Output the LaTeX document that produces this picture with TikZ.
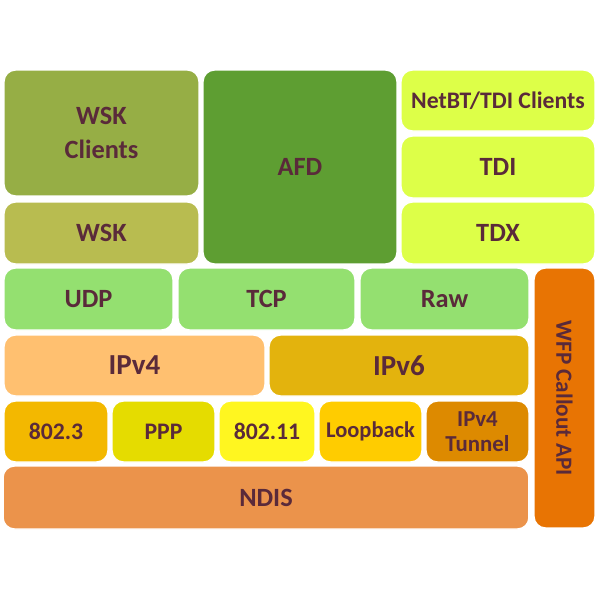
\documentclass[tikz,border=0pt]{standalone}
\usepackage{fontspec}
\setmainfont{Carlito}
\usetikzlibrary{positioning}

\definecolor{labeltext}{RGB}{90,42,58}
\definecolor{wskcli}{RGB}{150,174,69}
\definecolor{wsk}{RGB}{184,188,80}
\definecolor{afd}{RGB}{94,158,50}
\definecolor{tdi}{RGB}{221,255,72}
\definecolor{transport}{RGB}{148,224,112}
\definecolor{ipfour}{RGB}{255,192,112}
\definecolor{ipsix}{RGB}{227,179,13}
\definecolor{ether}{RGB}{243,184,0}
\definecolor{ppp}{RGB}{229,220,0}
\definecolor{wifi}{RGB}{255,246,32}
\definecolor{loop}{RGB}{255,204,0}
\definecolor{tunnel}{RGB}{221,138,0}
\definecolor{ndis}{RGB}{235,147,75}
\definecolor{wfp}{RGB}{232,116,3}

\begin{document}
\begin{tikzpicture}[x=0.02cm,y=-0.02cm,
    every node/.style={font=\bfseries\fontsize{15}{19}\selectfont, text=labeltext},
    layer/.style={draw=white, line width=0.8pt, rectangle, rounded corners=6.5pt, inner sep=0pt, align=center},
    small/.style={font=\bfseries\fontsize{13.5}{15.5}\selectfont}]
    \useasboundingbox (0,0) rectangle (600,600);
    % sockets / tdi
    \node[layer, fill=wskcli, minimum width=3.9cm, minimum height=2.52cm] (wskc) at (101.5,133) {WSK\\Clients};
    \node[layer, fill=wsk, minimum width=3.9cm, minimum height=1.24cm] (wsk) at (101.5,233) {WSK};
    \node[layer, fill=afd, minimum width=3.88cm, minimum height=3.88cm] (afd) at (300,167) {AFD};
    \node[layer, fill=tdi, minimum width=3.88cm, minimum height=1.22cm, small] (netbt) at (498,100.5) {NetBT/TDI Clients};
    \node[layer, fill=tdi, minimum width=3.88cm, minimum height=1.24cm] (tdi) at (498,167) {TDI};
    \node[layer, fill=tdi, minimum width=3.88cm, minimum height=1.24cm] (tdx) at (498,233) {TDX};
    % transport
    \node[layer, fill=transport, minimum width=3.38cm, minimum height=1.24cm] (udp) at (88.5,299) {UDP};
    \node[layer, fill=transport, minimum width=3.54cm, minimum height=1.24cm] (tcp) at (266.5,299) {TCP};
    \node[layer, fill=transport, minimum width=3.38cm, minimum height=1.24cm] (raw) at (444.5,299) {Raw};
    % network
    \node[layer, fill=ipfour, minimum width=5.22cm, minimum height=1.22cm, font=\bfseries\fontsize{16.5}{20}\selectfont] (ipv4) at (134.5,365.5) {IPv4};
    \node[layer, fill=ipsix, minimum width=5.2cm, minimum height=1.22cm, font=\bfseries\fontsize{16.5}{20}\selectfont] (ipv6) at (399,365.5) {IPv6};
    % framing
    \node[layer, fill=ether, minimum width=2.08cm, minimum height=1.22cm, small] (eth) at (56,431.5) {802.3};
    \node[layer, fill=ppp, minimum width=2.06cm, minimum height=1.22cm, small] (ppp) at (163.5,431.5) {PPP};
    \node[layer, fill=wifi, minimum width=1.92cm, minimum height=1.22cm, small] (wlan) at (267,431.5) {802.11};
    \node[layer, fill=loop, minimum width=2.06cm, minimum height=1.22cm, font=\bfseries\fontsize{12.8}{15}\selectfont] (lo) at (370.5,431.5) {Loopback};
    \node[layer, fill=tunnel, minimum width=2.06cm, minimum height=1.22cm, font=\bfseries\fontsize{13}{14.5}\selectfont] (tun) at (477.5,431.5) {IPv4\\Tunnel};
    \node[layer, fill=ndis, minimum width=10.52cm, minimum height=1.26cm] (ndis) at (266,497.5) {NDIS};
    % wfp
    \node[layer, fill=wfp, minimum width=5.2cm, minimum height=1.22cm, rotate=-90, font=\bfseries\fontsize{13.2}{15}\selectfont] (wfp) at (564.5,398) {WFP Callout API};
\end{tikzpicture}
\end{document}
